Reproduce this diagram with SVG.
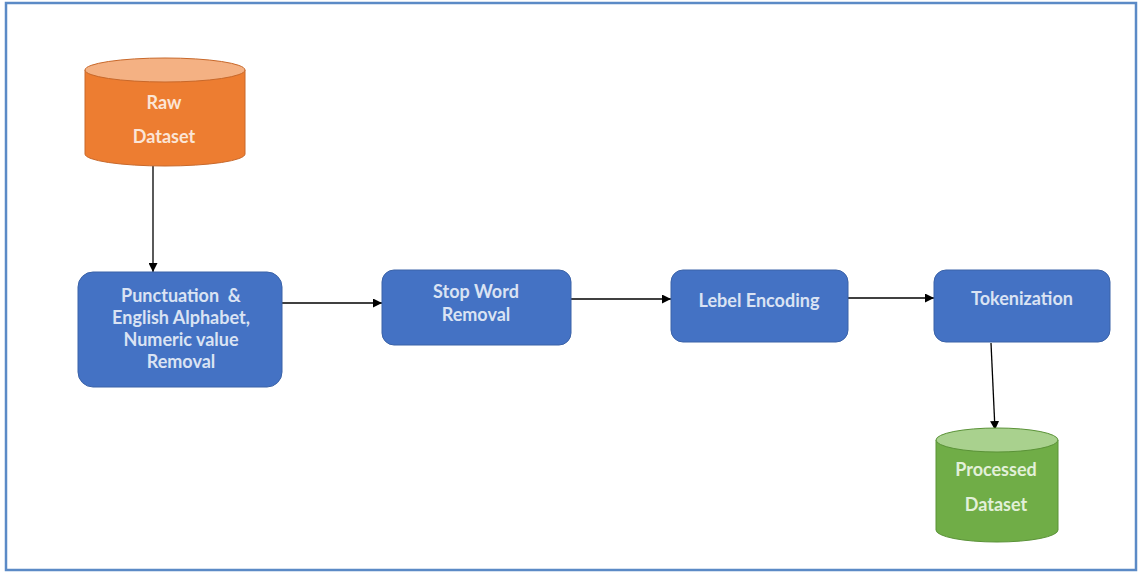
<svg xmlns="http://www.w3.org/2000/svg" width="1142" height="573" viewBox="0 0 1142 573">
  <defs>
    <marker id="arrow" viewBox="0 0 10 10" refX="10" refY="5" markerWidth="9" markerHeight="9" markerUnits="userSpaceOnUse" orient="auto">
      <path d="M0,0 L10,5 L0,10 z" fill="#000"/>
    </marker>
    <style>
      .frame { fill: #fff; stroke: #5b8ac6; stroke-width: 2.5; }
      .step { fill: #4472c4; stroke: #3a62a8; stroke-width: 1; }
      .label { font-family: Lato, "Open Sans", sans-serif; font-weight: 700; text-anchor: middle; white-space: pre; }
      .step-text { fill: #dae3f3; font-size: 18px; }
      .raw-body { fill: #ed7d31; stroke: #c8682a; stroke-width: 1; }
      .raw-top { fill: #f4b183; stroke: #c8682a; stroke-width: 1; }
      .raw-text { fill: #fbe5d6; font-size: 18px; }
      .out-body { fill: #70ad47; stroke: #5a9237; stroke-width: 1; }
      .out-top { fill: #a9d18e; stroke: #5a9237; stroke-width: 1; }
      .out-text { fill: #e2f0d9; font-size: 18px; }
      .link { stroke: #000; stroke-width: 1.3; fill: none; marker-end: url(#arrow); }
    </style>
  </defs>

  <rect class="frame" x="6" y="3" width="1130" height="567"/>

  <g id="connectors">
    <line class="link" x1="153" y1="166" x2="153" y2="272"/>
    <line class="link" x1="282" y1="303" x2="382" y2="303"/>
    <line class="link" x1="571" y1="299" x2="671" y2="299"/>
    <line class="link" x1="848" y1="298" x2="934" y2="298"/>
    <line class="link" x1="991" y1="343" x2="995" y2="430"/>
  </g>

  <g id="raw-dataset">
    <path class="raw-body" d="M85,70 L85,154 A80,12 0 0 0 245,154 L245,70 Z"/>
    <ellipse class="raw-top" cx="165" cy="70" rx="80" ry="12"/>
    <text class="label raw-text" x="164" y="109">Raw</text>
    <text class="label raw-text" x="164" y="143">Dataset</text>
  </g>

  <g id="punctuation-removal">
    <rect class="step" x="78" y="272" width="204" height="115" rx="15"/>
    <text class="label step-text" x="181" y="302">Punctuation  &amp;</text>
    <text class="label step-text" x="181" y="324">English Alphabet,</text>
    <text class="label step-text" x="181" y="346">Numeric value</text>
    <text class="label step-text" x="181" y="368">Removal</text>
  </g>

  <g id="stop-word-removal">
    <rect class="step" x="382" y="270" width="189" height="75" rx="12"/>
    <text class="label step-text" x="476" y="298">Stop Word</text>
    <text class="label step-text" x="476" y="321">Removal</text>
  </g>

  <g id="label-encoding">
    <rect class="step" x="671" y="270" width="177" height="72" rx="12"/>
    <text class="label step-text" x="759" y="307">Lebel Encoding</text>
  </g>

  <g id="tokenization">
    <rect class="step" x="934" y="270" width="176" height="72" rx="12"/>
    <text class="label step-text" x="1022" y="305">Tokenization</text>
  </g>

  <g id="processed-dataset">
    <path class="out-body" d="M936,440 L936,530 A61,12 0 0 0 1058,530 L1058,440 Z"/>
    <ellipse class="out-top" cx="997" cy="440" rx="61" ry="12"/>
    <text class="label out-text" x="996" y="476">Processed</text>
    <text class="label out-text" x="996" y="511">Dataset</text>
  </g>
</svg>
